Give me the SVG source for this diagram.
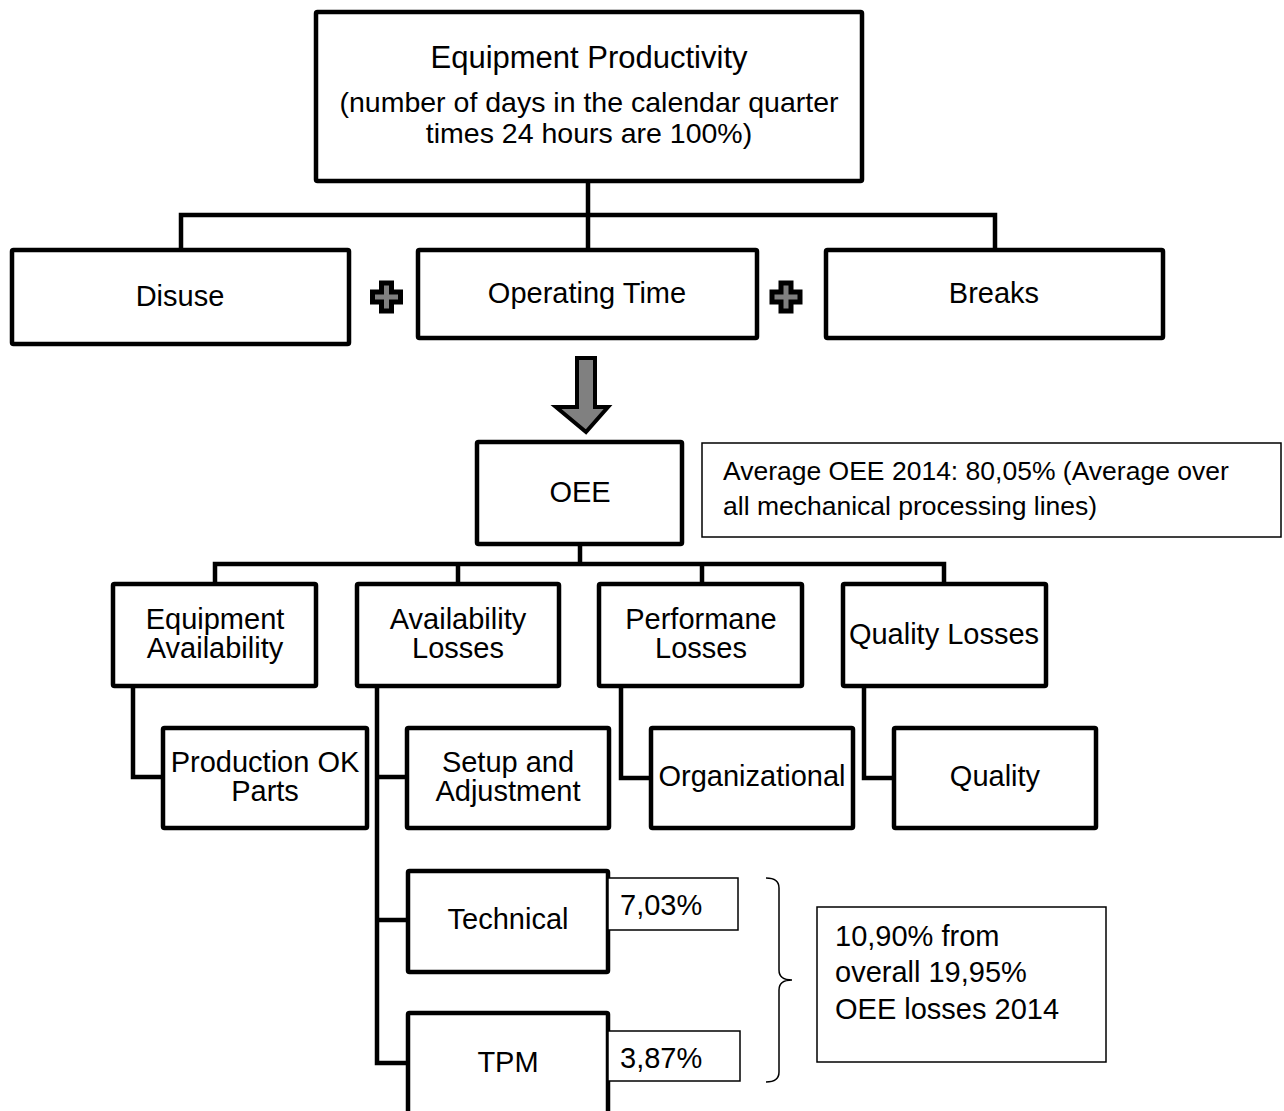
<svg xmlns="http://www.w3.org/2000/svg" width="1284" height="1111" viewBox="0 0 1284 1111">
  <style>
    .box { fill: #fff; stroke: #000; stroke-width: 4.5; stroke-linejoin: round; }
    .thin { fill: #fff; stroke: #000; stroke-width: 1.5; }
    .conn { fill: none; stroke: #000; stroke-width: 4.5; stroke-linejoin: miter; stroke-linecap: square; }
    .brace { fill: none; stroke: #000; stroke-width: 1.5; }
    .plus { fill: #808080; stroke: #000; stroke-width: 5; stroke-linejoin: miter; }
    .arrow { fill: #808080; stroke: #000; stroke-width: 4; stroke-linejoin: miter; }
    text { font-family: "Liberation Sans", Arial, sans-serif; fill: #000; font-size: 29px; }
    .c { text-anchor: middle; }
    .title { font-size: 31px; }
    .sub { font-size: 28.5px; }
    .note { font-size: 26.5px; }
  </style>
  <rect width="1284" height="1111" fill="#fff"/>

  <!-- connectors -->
  <g id="connectors">
    <path class="conn" d="M588 181 V215 M181 250 V215 H995 V250 M588 215 V250"/>
    <path class="conn" d="M580 544 V564 M215 584 V564 H944 V584 M458 564 V584 M702 564 V584"/>
    <path class="conn" d="M133 686 V777 H163"/>
    <path class="conn" d="M377 686 V1063 H408 M377 777 H407 M377 920 H408"/>
    <path class="conn" d="M621 686 V778 H651"/>
    <path class="conn" d="M864 686 V778 H894"/>
  </g>

  <g id="equipment-productivity">
    <rect class="box" x="316" y="12" width="546" height="169" rx="1.5"/>
    <text class="c title" x="589" y="68">Equipment Productivity</text>
    <text class="c sub" x="589" y="112">(number of days in the calendar quarter</text>
    <text class="c sub" x="589" y="143">times 24 hours are 100%)</text>
  </g>

  <g id="disuse">
    <rect class="box" x="12" y="250" width="337" height="94" rx="1.5"/>
    <text class="c" x="180" y="306">Disuse</text>
  </g>
  <g id="plus-1">
    <polygon class="plus" points="381.5,283 391.5,283 391.5,292 400.5,292 400.5,302 391.5,302 391.5,311 381.5,311 381.5,302 372.5,302 372.5,292 381.5,292"/>
  </g>
  <g id="operating-time">
    <rect class="box" x="418" y="250" width="339" height="88" rx="1.5"/>
    <text class="c" x="587" y="303">Operating Time</text>
  </g>
  <g id="plus-2">
    <polygon class="plus" points="781,283 791,283 791,292 800,292 800,302 791,302 791,311 781,311 781,302 772,302 772,292 781,292"/>
  </g>
  <g id="breaks">
    <rect class="box" x="826" y="250" width="337" height="88" rx="1.5"/>
    <text class="c" x="994" y="303">Breaks</text>
  </g>

  <g id="down-arrow">
    <polygon class="arrow" points="577,358 595,358 595,407 608,407 586,432 556,407 577,407"/>
  </g>

  <g id="oee">
    <rect class="box" x="477" y="442" width="205" height="102" rx="1.5"/>
    <text class="c" x="580" y="502">OEE</text>
  </g>
  <g id="average-note">
    <rect class="thin" x="702" y="443" width="579" height="94"/>
    <text class="note" x="723" y="480">Average OEE 2014: 80,05% (Average over</text>
    <text class="note" x="723" y="515">all mechanical processing lines)</text>
  </g>

  <g id="equipment-availability">
    <rect class="box" x="113" y="584" width="203" height="102" rx="1.5"/>
    <text class="c" x="215" y="629">Equipment</text>
    <text class="c" x="215" y="658">Availability</text>
  </g>
  <g id="availability-losses">
    <rect class="box" x="357" y="584" width="202" height="102" rx="1.5"/>
    <text class="c" x="458" y="629">Availability</text>
    <text class="c" x="458" y="658">Losses</text>
  </g>
  <g id="performane-losses">
    <rect class="box" x="599" y="584" width="203" height="102" rx="1.5"/>
    <text class="c" x="701" y="629">Performane</text>
    <text class="c" x="701" y="658">Losses</text>
  </g>
  <g id="quality-losses">
    <rect class="box" x="843" y="584" width="203" height="102" rx="1.5"/>
    <text class="c" x="944" y="644">Quality Losses</text>
  </g>

  <g id="production-ok-parts">
    <rect class="box" x="163" y="728" width="204" height="100" rx="1.5"/>
    <text class="c" x="265" y="772">Production OK</text>
    <text class="c" x="265" y="801">Parts</text>
  </g>
  <g id="setup-adjustment">
    <rect class="box" x="407" y="728" width="202" height="100" rx="1.5"/>
    <text class="c" x="508" y="772">Setup and</text>
    <text class="c" x="508" y="801">Adjustment</text>
  </g>
  <g id="organizational">
    <rect class="box" x="651" y="728" width="202" height="100" rx="1.5"/>
    <text class="c" x="752" y="786">Organizational</text>
  </g>
  <g id="quality">
    <rect class="box" x="894" y="728" width="202" height="100" rx="1.5"/>
    <text class="c" x="995" y="786">Quality</text>
  </g>

  <g id="technical">
    <rect class="box" x="408" y="871" width="200" height="101" rx="1.5"/>
    <text class="c" x="508" y="929">Technical</text>
  </g>
  <g id="technical-share">
    <rect class="thin" x="608" y="878" width="130" height="52"/>
    <text x="620" y="915">7,03%</text>
  </g>

  <g id="tpm">
    <rect class="box" x="408" y="1013" width="200" height="110" rx="1.5"/>
    <text class="c" x="508" y="1072">TPM</text>
  </g>
  <g id="tpm-share">
    <rect class="thin" x="608" y="1031" width="132" height="50"/>
    <text x="620" y="1068">3,87%</text>
  </g>

  <g id="brace">
    <path class="brace" d="M766 878 Q779 878 779 888 V970 Q779 980 792 980 Q779 980 779 990 V1072 Q779 1082 766 1082"/>
  </g>
  <g id="losses-summary">
    <rect class="thin" x="817" y="907" width="289" height="155"/>
    <text x="835" y="946">10,90% from</text>
    <text x="835" y="982">overall 19,95%</text>
    <text x="835" y="1019">OEE losses 2014</text>
  </g>
</svg>
